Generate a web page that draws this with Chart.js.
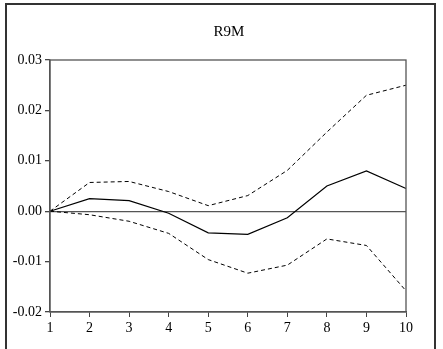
<!DOCTYPE html>
<html>
<head>
<meta charset="utf-8">
<script src="https://cdn.jsdelivr.net/npm/chart.js@4.4.0/dist/chart.umd.min.js"></script>
<style>
  html, body { margin: 0; padding: 0; background: #fff; }
  #wrap { width: 443px; height: 349px; position: relative; }
</style>
</head>
<body>
<div id="wrap"><canvas id="irf"></canvas></div>
<script>
// impulse response of R9M over 10 periods, with +/- 2 s.e. bands
const periods = ["1", "2", "3", "4", "5", "6", "7", "8", "9", "10"];
const response = [0, 0.0025, 0.0021, -0.0004, -0.0043, -0.0046, -0.0013, 0.0050, 0.0080, 0.0045];
const upperBand = [0, 0.0057, 0.0059, 0.0039, 0.0011, 0.0031, 0.0081, 0.0157, 0.0230, 0.0250];
const lowerBand = [0, -0.0007, -0.0020, -0.0044, -0.0096, -0.0123, -0.0107, -0.0055, -0.0068, -0.0158];
const yTicks = [-0.02, -0.01, 0.00, 0.01, 0.02, 0.03];

const serif = "'Liberation Serif', 'Times New Roman', serif";

// outer frame, plot box and title
const framePlugin = {
  id: 'frame',
  afterDraw(chart) {
    const c = chart.ctx;
    const a = chart.chartArea;
    c.save();
    c.strokeStyle = '#333';
    c.lineWidth = 2;
    c.beginPath();
    c.moveTo(6, 349);
    c.lineTo(6, 4);
    c.lineTo(435, 4);
    c.lineTo(435, 349);
    c.stroke();
    c.strokeStyle = '#555';
    c.lineWidth = 1.3;
    c.strokeRect(a.left, a.top, a.right - a.left, a.bottom - a.top);
    c.fillStyle = '#000';
    c.font = '15px ' + serif;
    c.textAlign = 'center';
    c.textBaseline = 'middle';
    c.fillText('R9M', (a.left + a.right) / 2 + 1, 32);
    c.restore();
  }
};

new Chart(document.getElementById('irf'), {
  type: 'line',
  data: {
    labels: periods,
    datasets: [
      { data: response, borderColor: '#000', borderWidth: 1.2 },
      { data: upperBand, borderColor: '#000', borderWidth: 1, borderDash: [4, 3] },
      { data: lowerBand, borderColor: '#000', borderWidth: 1, borderDash: [4, 3] }
    ]
  },
  options: {
    responsive: true,
    maintainAspectRatio: false,
    animation: false,
    layout: { padding: { top: 60, right: 37, left: 0, bottom: 0 } },
    elements: { point: { radius: 0 }, line: { tension: 0 } },
    plugins: { legend: { display: false }, tooltip: { enabled: false } },
    scales: {
      x: {
        type: 'category',
        offset: false,
        grid: { drawOnChartArea: false, tickLength: 5, tickColor: '#444' },
        border: { color: '#555', width: 1.3 },
        ticks: { color: '#000', font: { family: serif, size: 14 }, padding: 3, maxRotation: 0 },
        afterFit(scale) { scale.height = 37; }
      },
      y: {
        min: -0.02,
        max: 0.03,
        afterBuildTicks(scale) { scale.ticks = yTicks.map(v => ({ value: v })); },
        grid: {
          tickLength: 5,
          tickColor: '#444',
          lineWidth: 1.3,
          color: ctx => (ctx.tick && ctx.tick.value === 0 ? '#555' : 'rgba(0,0,0,0)')
        },
        border: { color: '#555', width: 1.3 },
        ticks: {
          color: '#000',
          font: { family: serif, size: 14 },
          padding: 3,
          callback: v => v.toFixed(2)
        },
        afterFit(scale) { scale.width = 50; }
      }
    }
  },
  plugins: [framePlugin]
});
</script>
</body>
</html>
